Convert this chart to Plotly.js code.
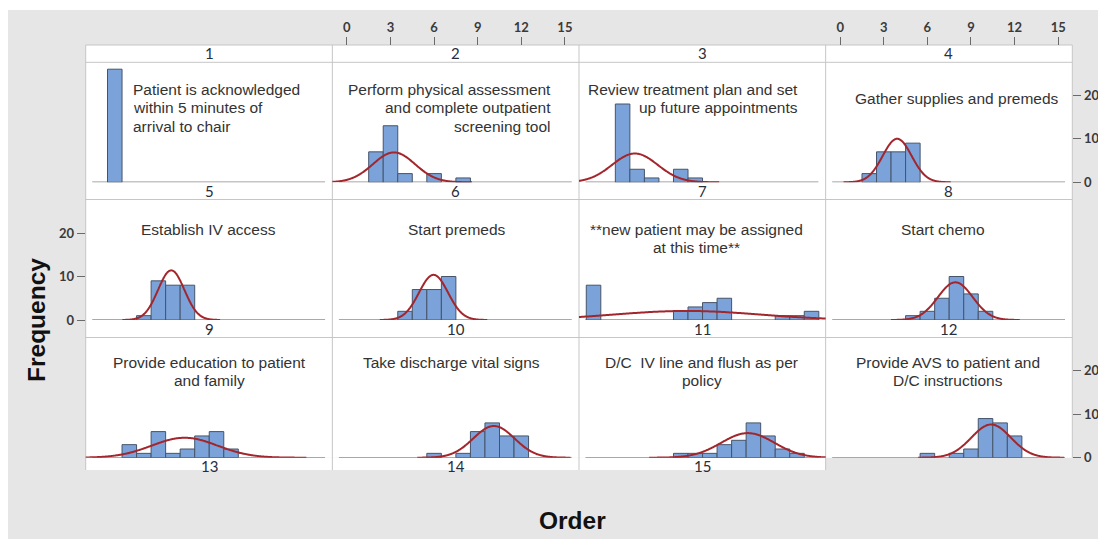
<!DOCTYPE html>
<html><head><meta charset="utf-8">
<script src="https://cdn.plot.ly/plotly-3.0.1.min.js"></script>
<style>html,body{margin:0;padding:0;background:#fff;}#chart{width:1098px;height:539px;}</style>
</head><body><div id="chart"></div>
<script>
// ---------------- DATA ----------------
const panelNumbers = [1,2,3,4,5,6,7,8,9,10,11,12];
const bottomStripNumbers = [13,14,15];
const panelText = [
  ["Patient is acknowledged","within 5 minutes of","arrival to chair"],
  ["Perform physical assessment","and complete outpatient","screening tool"],
  ["Review treatment plan and set","up future appointments"],
  ["Gather supplies and premeds"],
  ["Establish IV access"],
  ["Start premeds"],
  ["**new patient may be assigned","at this time**"],
  ["Start chemo"],
  ["Provide education to patient","and family"],
  ["Take discharge vital signs"],
  ["D/C\u00a0 IV line and flush as per","policy"],
  ["Provide AVS to patient and","D/C instructions"]
];
const order1  = [1],                          freq1  = [26];
const order2  = [2,3,4,6,8],                  freq2  = [7,13,2,2,1];
const order3  = [2,3,4,6,7],                  freq3  = [18,3,1,3,1];
const order4  = [2,3,4,5],                    freq4  = [2,7,7,9];
const order5  = [3,4,5,6],                    freq5  = [1,9,8,8];
const order6  = [4,5,6,7],                    freq6  = [2,7,7,10];
const order7  = [0,6,7,8,9,13,14,15],         freq7  = [8,2,3,4,5,1,1,2];
const order8  = [5,6,7,8,9,10],               freq8  = [1,2,5,10,6,2];
const order9  = [2,3,4,5,6,7,8,9],            freq9  = [3,1,6,1,2,5,6,2];
const order10 = [6,8,9,10,11,12],             freq10 = [1,1,6,8,5,5];
const order11 = [6,7,8,9,10,11,12,13,14],     freq11 = [1,1,1,3,4,8,5,2,1];
const order12 = [6,8,9,10,11,12],             freq12 = [1,1,2,9,8,5];
const xTickVals = [0,3,6,9,12,15];
const yTickVals = [0,10,20];
const xTitle = "Order";
const yTitle = "Frequency";

const orders = [order1,order2,order3,order4,order5,order6,order7,order8,order9,order10,order11,order12];
const freqs  = [freq1,freq2,freq3,freq4,freq5,freq6,freq7,freq8,freq9,freq10,freq11,freq12];

// ---------------- LAYOUT GEOMETRY ----------------
const W = 1098, H = 539;
const fx = p => p / W, fy = p => 1 - p / H;
const colEdges = [85.7, 332.35, 579, 825.65, 1072.3];
const rowTop = [62.3, 199.5, 337.5], rowBot = [182.3, 320, 457.7];
const stripMid = [52.6, 191, 328.6];
const pxPerUnit = 4.35;
const xRange = [-1, 15.97];
const baseX = [-0.55, 15.47];

const textPos = [
  {a:'left',  x:130.7,  y:89.3, dy:18.4},
  {a:'right', x:552.7,  y:89.3, dy:18.6},
  {a:'right', x:800,    y:89.3, dy:18.6},
  {a:'right', x:1060.7, y:98.3, dy:18.6},
  {a:'center',x:208.3,  y:229.3,dy:18.5},
  {a:'center',x:456.7,  y:229.3,dy:18.5},
  {a:'center',x:696,    y:229.3,dy:18.4},
  {a:'center',x:942.8,  y:229.3,dy:18.5},
  {a:'center',x:209,    y:362,  dy:18.7},
  {a:'center',x:451.7,  y:362,  dy:18.7},
  {a:'center',x:701.7,  y:362,  dy:18.7},
  {a:'center',x:947.5,  y:362,  dy:18.7}
];

const barFill = '#7BA3D9', barLine = '#46546A', curveColor = '#A3262C';
const tickFont = {family:'Lato, "Liberation Sans", sans-serif', size:13, color:'#3a3a3a', weight:'bold'};

const data = [];
const layout = {
  width: W, height: H,
  margin: {l:0, r:0, t:0, b:0},
  paper_bgcolor: '#ffffff',
  plot_bgcolor: 'rgba(0,0,0,0)',
  showlegend: false,
  bargap: 0,
  shapes: [],
  annotations: []
};

// backgrounds
layout.shapes.push({type:'rect', xref:'paper', yref:'paper', x0:fx(8), x1:1, y0:0, y1:fy(10), fillcolor:'#e6e6e6', line:{width:0}, layer:'below'});
layout.shapes.push({type:'rect', xref:'paper', yref:'paper', x0:fx(colEdges[0]), x1:fx(colEdges[4]), y0:fy(rowBot[2]), y1:fy(45), fillcolor:'#ffffff', line:{width:0}, layer:'below'});
layout.shapes.push({type:'rect', xref:'paper', yref:'paper', x0:fx(colEdges[0]), x1:fx(colEdges[3]), y0:fy(470), y1:fy(rowBot[2]), fillcolor:'#ffffff', line:{width:0}, layer:'below'});
// grid lines
const borderCol = '#c6c6c6';
[45, rowTop[0], rowTop[1], rowTop[2]].forEach(py => {
  layout.shapes.push({type:'line', xref:'paper', yref:'paper', x0:fx(colEdges[0]), x1:fx(colEdges[4]), y0:fy(py), y1:fy(py), line:{color:borderCol, width:1}, layer:'below'});
});
colEdges.forEach((px, i) => {
  const bottom = i === 4 ? rowBot[2] : 470;
  layout.shapes.push({type:'line', xref:'paper', yref:'paper', x0:fx(px), x1:fx(px), y0:fy(bottom), y1:fy(45), line:{color:borderCol, width:1}, layer:'below'});
});

function normalCurve(xs, ns) {
  let N = 0, s = 0;
  xs.forEach((x, i) => { N += ns[i]; s += x * ns[i]; });
  const m = s / N;
  let ss = 0;
  xs.forEach((x, i) => { ss += ns[i] * (x - m) * (x - m); });
  const sd = Math.sqrt(ss / (N - 1));
  if (!(sd > 0)) return null;
  const lo = m - 3.7 * sd, hi = m + 3.7 * sd;
  const cx = [], cy = [];
  const n = 240;
  for (let k = 0; k <= n; k++) {
    const x = lo + (hi - lo) * k / n;
    cx.push(x);
    cy.push(N * Math.exp(-0.5 * Math.pow((x - m) / sd, 2)) / (sd * Math.sqrt(2 * Math.PI)));
  }
  return {cx, cy};
}

panelNumbers.forEach((pn, i) => {
  const r = Math.floor(i / 4), c = i % 4;
  const k = i + 1;
  const xn = k === 1 ? 'x' : 'x' + k, yn = k === 1 ? 'y' : 'y' + k;
  const xa = 'xaxis' + (k === 1 ? '' : k), ya = 'yaxis' + (k === 1 ? '' : k);
  const yTopVal = (rowBot[r] - rowTop[r]) / pxPerUnit;

  const xaxis = {
    domain: [fx(colEdges[c]), fx(colEdges[c + 1])],
    range: xRange, showgrid:false, zeroline:false, showline:false,
    ticks:'', showticklabels:false, anchor: yn, fixedrange:true
  };
  if (r === 0 && (c === 1 || c === 3)) {
    Object.assign(xaxis, {
      anchor:'free', position: fy(45), side:'top', ticks:'outside', ticklen:8,
      tickwidth:1, tickcolor:'#6a6a6a', tickmode:'array', tickvals:xTickVals,
      showticklabels:true, tickfont:tickFont
    });
  }
  const yaxis = {
    domain: [fy(rowBot[r]), fy(rowTop[r])],
    range: [0, yTopVal], showgrid:false, zeroline:false, showline:false,
    ticks:'', showticklabels:false, anchor: xn, fixedrange:true
  };
  if ((r === 1 && c === 0) || ((r === 0 || r === 2) && c === 3)) {
    Object.assign(yaxis, {
      side: c === 0 ? 'left' : 'right', ticks:'outside', ticklen:8, tickwidth:1,
      tickcolor:'#6a6a6a', tickmode:'array', tickvals:yTickVals,
      showticklabels:true, tickfont:tickFont
    });
  }
  layout[xa] = xaxis;
  layout[ya] = yaxis;

  // baseline
  layout.shapes.push({type:'line', xref:xn, yref:yn, x0:baseX[0], x1:baseX[1], y0:0, y1:0, line:{color:'#8c8c8c', width:1.5}, layer:'below'});

  data.push({
    type:'bar', x: orders[i], y: freqs[i], width: orders[i].map(() => 1),
    xaxis: xn, yaxis: yn,
    marker:{color:barFill, line:{color:barLine, width:1}},
    hoverinfo:'skip'
  });
  const nc = normalCurve(orders[i], freqs[i]);
  if (nc) {
    data.push({
      type:'scatter', mode:'lines', x: nc.cx, y: nc.cy, xaxis: xn, yaxis: yn,
      line:{color:curveColor, width:2, shape:'spline'}, hoverinfo:'skip'
    });
  }

  // strip label
  layout.annotations.push({
    xref:'paper', yref:'paper', x: fx((colEdges[c] + colEdges[c + 1]) / 2), y: fy(stripMid[r]),
    text: String(pn), showarrow:false, xanchor:'center', yanchor:'middle',
    font:{family:'Lato, "Liberation Sans", sans-serif', size:15, color:'#2a2d3a'}
  });

  // panel text
  const tp = textPos[i];
  panelText[i].forEach((line, j) => {
    layout.annotations.push({
      xref:'paper', yref:'paper', x: fx(tp.x), y: fy(tp.y + j * tp.dy),
      text: line, showarrow:false, xanchor: tp.a, yanchor:'middle', align: tp.a,
      font:{family:'"Liberation Sans", Arial, sans-serif', size:15.5, color:'#333333'}
    });
  });
});

// bottom strip labels (partially visible row)
bottomStripNumbers.forEach((pn, c) => {
  layout.annotations.push({
    xref:'paper', yref:'paper', x: fx((colEdges[c] + colEdges[c + 1]) / 2), y: fy(465.5),
    text: String(pn), showarrow:false, xanchor:'center', yanchor:'middle',
    font:{family:'Lato, "Liberation Sans", sans-serif', size:15, color:'#2a2d3a'}
  });
});

// axis titles
layout.annotations.push({
  xref:'paper', yref:'paper', x: fx(36), y: fy(320), text: yTitle, textangle:-90,
  showarrow:false, xanchor:'center', yanchor:'middle',
  font:{family:'"Liberation Sans", Arial, sans-serif', size:24.5, color:'#111111', weight:'bold'}
});
layout.annotations.push({
  xref:'paper', yref:'paper', x: fx(572.5), y: fy(520), text: xTitle,
  showarrow:false, xanchor:'center', yanchor:'middle',
  font:{family:'"Liberation Sans", Arial, sans-serif', size:24.5, color:'#111111', weight:'bold'}
});

Plotly.newPlot('chart', data, layout, {staticPlot:true, displayModeBar:false});
</script>
</body></html>
